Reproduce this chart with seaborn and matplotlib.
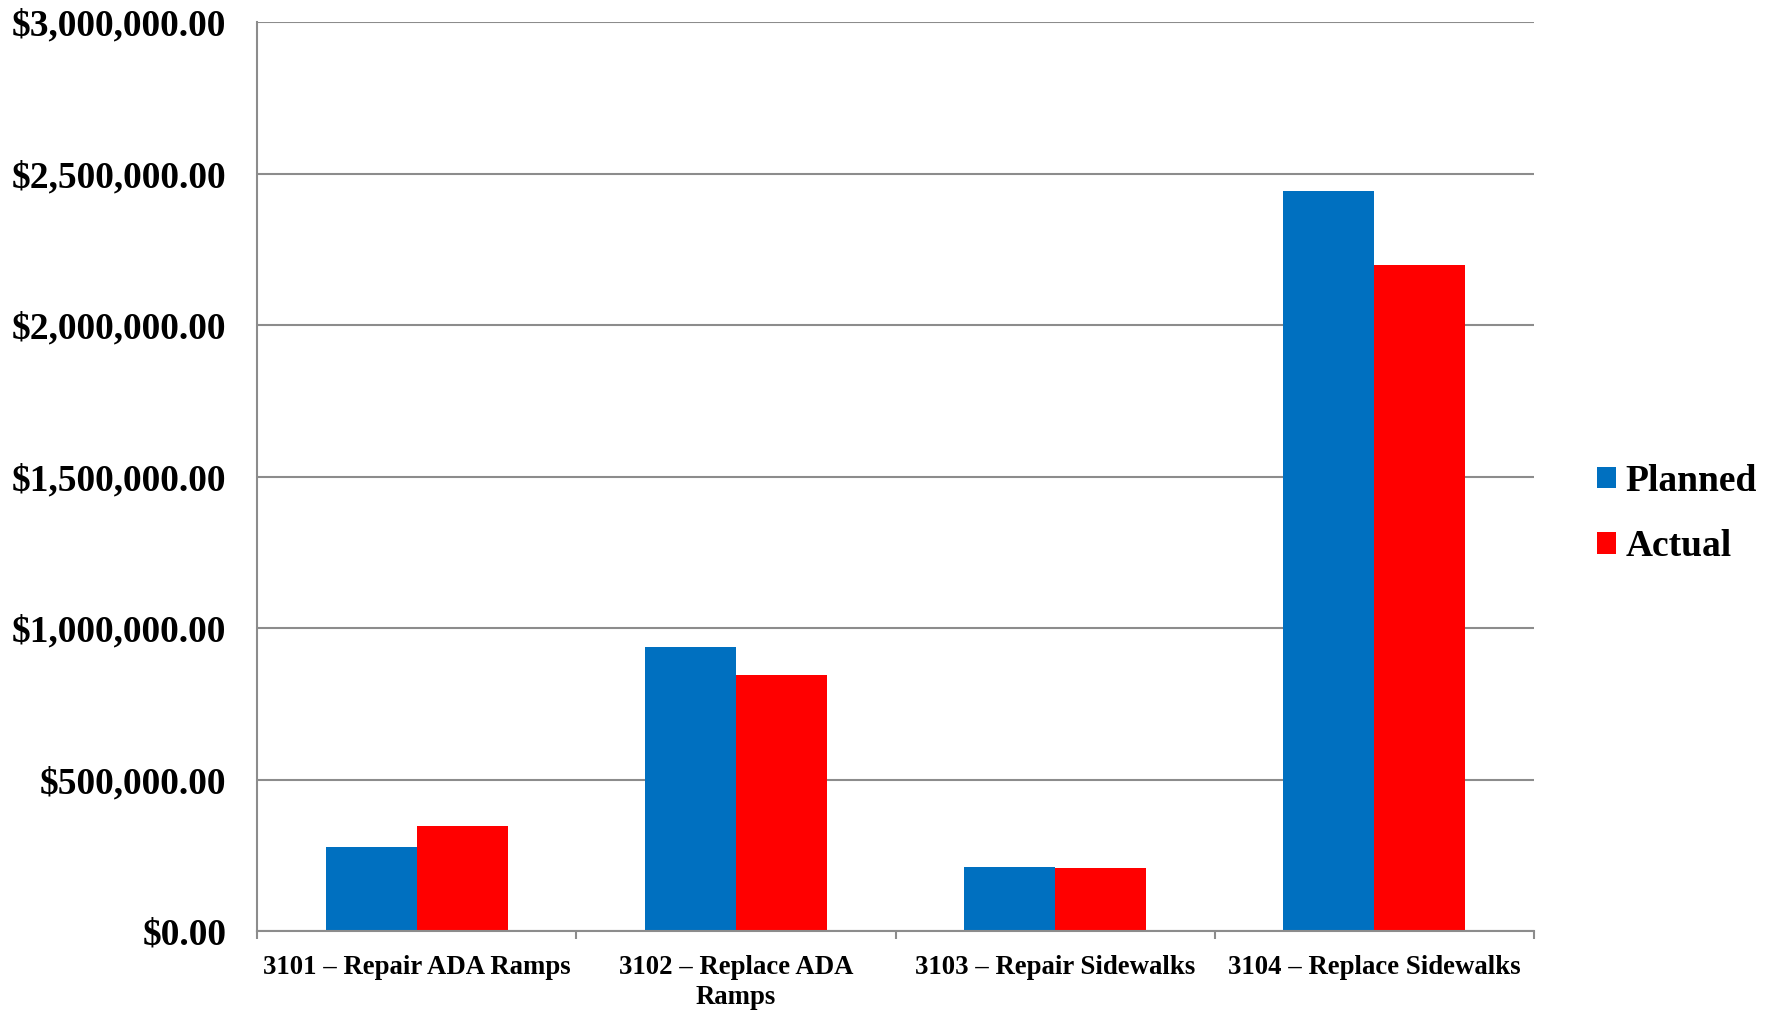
import matplotlib
matplotlib.use("Agg")
import matplotlib.pyplot as plt
import seaborn as sns
import pandas as pd
import numpy as np
from matplotlib.ticker import FuncFormatter, FixedLocator

categories = ["3101 – Repair ADA Ramps", "3102 – Replace ADA\nRamps",
              "3103 – Repair Sidewalks", "3104 – Replace Sidewalks"]
planned = [277000, 938000, 210000, 2443000]
actual = [346000, 846000, 207000, 2200000]
series = ["Planned", "Actual"]
colors = ["#0070C0", "#FF0000"]

df = pd.DataFrame({
    "category": categories * 2,
    "value": planned + actual,
    "series": [series[0]] * len(categories) + [series[1]] * len(categories),
})

sns.set_theme(style="white")
plt.rcParams["font.family"] = ["Liberation Serif", "DejaVu Serif"]
plt.rcParams["font.weight"] = "bold"
plt.rcParams["text.color"] = "black"

fig = plt.figure(figsize=(17.71, 10.10), dpi=100)
ax = fig.add_axes([0.1451, 0.0782, 0.8662 - 0.1451, 0.978 - 0.0782])

sns.barplot(data=df, x="category", y="value", hue="series", order=categories,
            hue_order=series, palette=colors, width=0.57, dodge=True,
            saturation=1, ax=ax, linewidth=0, legend=True)

ax.set_ylim(0, 3000000)
ax.set_xlim(-0.5, len(categories) - 0.5)
ax.set_yticks(np.arange(0, 3000001, 500000))
ax.yaxis.set_major_formatter(FuncFormatter(lambda v, p: f"${v:,.2f}"))
ax.set_xlabel("")
ax.set_ylabel("")

ax.grid(axis="y", color="#8c8c8c", linewidth=1.5)
ax.set_axisbelow(True)
for s in ["top", "right"]:
    ax.spines[s].set_visible(False)
for s in ["left", "bottom"]:
    ax.spines[s].set_color("#8c8c8c")
    ax.spines[s].set_linewidth(1.5)

ax.tick_params(axis="y", which="major", length=7, width=1.5, color="#8c8c8c",
               pad=15, labelsize=27, labelcolor="black")
ax.tick_params(axis="x", which="major", length=0, pad=17, labelsize=19.3,
               labelcolor="black")
ax.xaxis.set_minor_locator(FixedLocator(np.arange(-0.5, len(categories), 1.0)))
ax.tick_params(axis="x", which="minor", length=6, width=1.5, color="#8c8c8c",
               bottom=True)
for lbl in ax.get_xticklabels() + ax.get_yticklabels():
    lbl.set_fontweight("bold")
for lbl in ax.get_xticklabels():
    lbl.set_linespacing(1.3)

handles, labels = ax.get_legend_handles_labels()
ax.get_legend().remove()
leg = fig.legend(handles, labels, loc="upper left", bbox_to_anchor=(0.902, 0.541),
                 frameon=False, prop={"size": 27, "weight": "bold"},
                 handlelength=0.5, handleheight=0.5, handletextpad=0.25,
                 labelspacing=0.82, borderaxespad=0, borderpad=0)
for t in leg.get_texts():
    t.set_color("black")

fig.savefig("out.png", dpi=100)
